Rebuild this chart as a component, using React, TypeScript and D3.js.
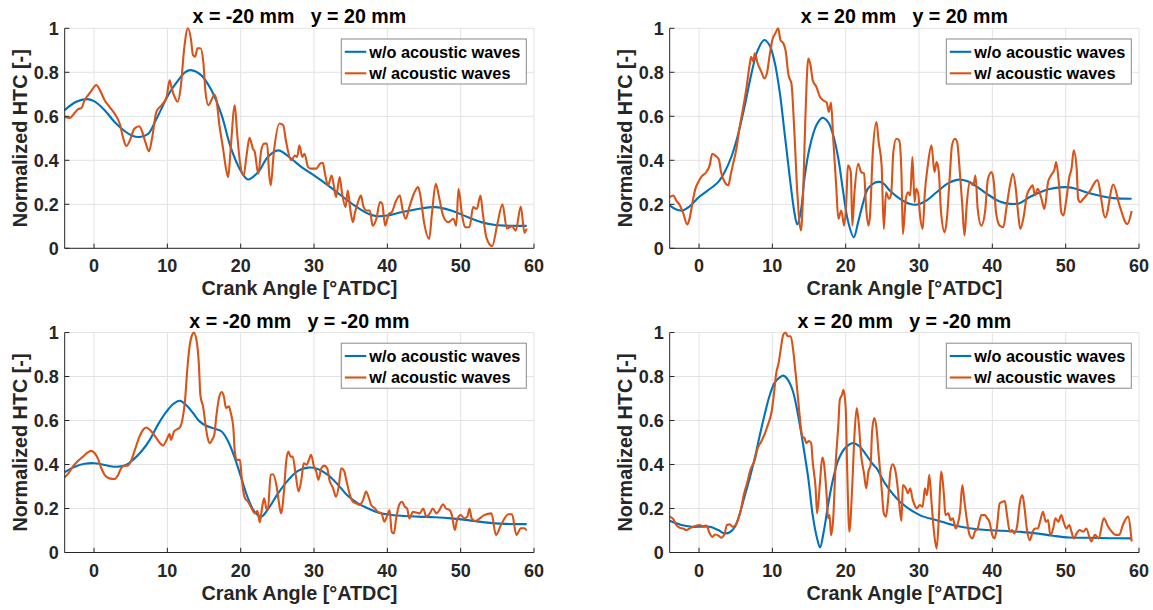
import React from "react";
import * as d3 from "d3";

// ---------- data ----------
const titles = [
  "x = -20 mm   y = 20 mm",
  "x = 20 mm   y = 20 mm",
  "x = -20 mm   y = -20 mm",
  "x = 20 mm   y = -20 mm",
];
const seriesNames = ["w/o acoustic waves", "w/ acoustic waves"];
const xTicks = [0, 10, 20, 30, 40, 50, 60];
const yTicks = [0, 0.2, 0.4, 0.6, 0.8, 1];
const yTickLabels = ["0", "0.2", "0.4", "0.6", "0.8", "1"];
const xLabel = "Crank Angle [°ATDC]";
const yLabel = "Normalized HTC [-]";

type P = [number, number];

const tlBlue: P[] = [[-4,0.628],[-2.5,0.665],[-1,0.678],[0,0.669],[1.45,0.628],[2.8,0.574],[4.2,0.532],[5.2,0.512],[6.2,0.506],[7.4,0.521],[8.3,0.574],[9.2,0.635],[10.1,0.696],[11.5,0.764],[12.4,0.8],[13.2,0.81],[14.6,0.787],[16,0.719],[17.4,0.605],[18.7,0.453],[20.1,0.347],[21,0.313],[22.4,0.347],[23.7,0.415],[25.1,0.445],[26.9,0.407],[28.3,0.369],[30,0.331],[31.9,0.286],[33.7,0.24],[35.5,0.195],[37.4,0.157],[38.6,0.146],[40,0.149],[41.9,0.164],[44.2,0.179],[46.5,0.187],[48.7,0.172],[51,0.141],[52.8,0.119],[54.5,0.107],[56,0.103],[59,0.102]];
const tlOrange: P[] = [[-4,0.597],[-3.3,0.593],[-2.6,0.617],[-2.2,0.632],[-1.7,0.638],[-1.3,0.673],[-0.8,0.696],[-0.3,0.719],[0.3,0.742],[0.8,0.719],[1.45,0.673],[2.1,0.643],[2.8,0.612],[3.5,0.567],[4,0.498],[4.4,0.465],[4.9,0.491],[5.5,0.544],[6.2,0.555],[6.5,0.536],[7,0.483],[7.5,0.441],[7.9,0.498],[8.5,0.62],[9.2,0.65],[9.9,0.688],[10.3,0.764],[10.6,0.726],[11,0.688],[11.4,0.666],[11.8,0.726],[12.3,0.909],[12.8,1.0],[13.2,0.954],[13.5,0.878],[13.8,0.871],[14.1,0.909],[14.5,0.909],[14.9,0.848],[15.2,0.711],[15.6,0.65],[16,0.673],[16.4,0.699],[16.7,0.673],[17.1,0.559],[17.6,0.453],[18,0.362],[18.3,0.324],[18.6,0.438],[19.2,0.65],[19.5,0.529],[19.9,0.392],[20.4,0.331],[20.8,0.422],[21.2,0.502],[21.7,0.45],[21.9,0.441],[22.4,0.339],[22.8,0.445],[23.2,0.476],[23.6,0.476],[23.9,0.33],[24.1,0.286],[24.5,0.43],[25.3,0.567],[25.8,0.559],[26.2,0.483],[26.9,0.4],[27.4,0.422],[27.7,0.415],[28,0.468],[28.4,0.415],[28.7,0.43],[29.2,0.369],[29.6,0.362],[30.3,0.362],[30.8,0.384],[31.2,0.389],[31.5,0.339],[31.9,0.286],[32.4,0.331],[32.7,0.286],[33,0.233],[33.5,0.324],[33.8,0.255],[34.3,0.187],[34.6,0.263],[35,0.164],[35.3,0.119],[35.6,0.164],[36,0.21],[36.4,0.24],[36.7,0.195],[37.1,0.172],[37.6,0.172],[38,0.103],[38.5,0.134],[39,0.21],[39.3,0.203],[39.7,0.103],[40.2,0.156],[40.6,0.164],[41.2,0.217],[41.7,0.24],[42.1,0.172],[42.5,0.134],[43,0.187],[43.7,0.255],[44.2,0.278],[44.5,0.24],[45,0.119],[45.7,0.043],[46.1,0.164],[46.6,0.293],[47.1,0.225],[47.6,0.149],[48.3,0.119],[49,0.134],[49.4,0.103],[49.7,0.27],[50.2,0.149],[50.6,0.096],[51.2,0.096],[51.7,0.187],[52.2,0.179],[52.7,0.24],[53,0.164],[53.5,0.05],[54.3,0.01],[55,0.11],[55.7,0.2],[56.3,0.09],[57,0.1],[57.5,0.08],[58.2,0.19],[58.7,0.07],[59,0.09]];

const trBlue: P[] = [[-4,0.195],[-3.1,0.176],[-2.2,0.172],[-1.3,0.19],[0,0.233],[1.2,0.263],[2.6,0.301],[3.5,0.347],[4.4,0.415],[5.3,0.514],[6.2,0.643],[7.1,0.787],[8,0.9],[8.9,0.947],[9.6,0.924],[10.3,0.848],[11,0.711],[11.7,0.514],[12.4,0.316],[13,0.164],[13.4,0.108],[13.9,0.172],[14.4,0.324],[15.1,0.46],[16,0.559],[16.8,0.593],[17.6,0.574],[18.3,0.514],[19,0.407],[19.6,0.27],[20.3,0.126],[21.1,0.05],[21.7,0.119],[22.4,0.21],[23,0.27],[23.7,0.293],[24.4,0.302],[25.1,0.296],[26,0.263],[27.4,0.225],[28.7,0.202],[29.6,0.198],[31,0.217],[32.4,0.255],[34,0.296],[35.5,0.312],[36.9,0.301],[38.3,0.27],[39.6,0.24],[41,0.213],[42.4,0.202],[43.7,0.205],[45.1,0.233],[46.5,0.255],[47.8,0.27],[49.2,0.277],[50.1,0.278],[51.5,0.27],[52.8,0.255],[54.5,0.24],[56.5,0.228],[59,0.225]];
const trOrange: P[] = [[-4,0.233],[-3.5,0.24],[-3.1,0.217],[-2.6,0.195],[-2.2,0.164],[-1.6,0.108],[-1.3,0.134],[-0.8,0.225],[-0.5,0.27],[-0.1,0.301],[0.3,0.324],[1,0.347],[1.45,0.377],[1.8,0.43],[2.2,0.422],[2.7,0.404],[3,0.347],[3.5,0.301],[4,0.286],[4.3,0.331],[4.6,0.377],[5.1,0.453],[5.5,0.544],[6,0.635],[6.45,0.726],[6.9,0.833],[7.1,0.871],[7.4,0.848],[7.6,0.886],[8,0.84],[8.5,0.802],[8.9,0.772],[9.3,0.802],[9.6,0.871],[10,0.947],[10.4,0.977],[10.8,1.0],[11.1,0.947],[11.5,0.932],[11.8,0.9],[12.2,0.787],[12.6,0.749],[13,0.529],[13.4,0.255],[13.9,0.081],[14.2,0.255],[14.5,0.59],[14.9,0.863],[15.2,0.833],[15.5,0.764],[16,0.734],[16.5,0.688],[16.9,0.673],[17.4,0.663],[17.7,0.62],[18,0.663],[18.3,0.498],[18.7,0.286],[19,0.134],[19.4,0.172],[19.8,0.103],[20.1,0.225],[20.3,0.377],[20.7,0.347],[20.9,0.103],[21.2,0.255],[21.7,0.384],[22.1,0.347],[22.5,0.34],[22.8,0.179],[23.1,0.103],[23.3,0.141],[23.7,0.438],[24.2,0.574],[24.5,0.483],[24.9,0.377],[25.2,0.088],[25.5,0.255],[25.9,0.225],[26.2,0.248],[26.5,0.438],[26.9,0.498],[27.3,0.49],[27.6,0.347],[27.8,0.065],[28.2,0.225],[28.5,0.255],[28.8,0.24],[29.1,0.415],[29.4,0.21],[29.6,0.27],[29.9,0.248],[30.1,0.164],[30.5,0.088],[30.8,0.255],[31.2,0.377],[31.7,0.468],[32.1,0.347],[32.4,0.392],[32.7,0.347],[33,0.164],[33.5,0.073],[33.8,0.134],[34.2,0.331],[34.5,0.468],[34.9,0.498],[35.2,0.483],[35.5,0.377],[35.9,0.195],[36.2,0.058],[36.5,0.195],[36.9,0.301],[37.4,0.286],[37.7,0.331],[38,0.179],[38.5,0.103],[39,0.164],[39.4,0.316],[39.9,0.347],[40.2,0.301],[40.5,0.164],[41,0.103],[41.5,0.096],[41.9,0.179],[42.4,0.286],[42.8,0.339],[43.2,0.27],[43.5,0.164],[43.8,0.088],[44.3,0.149],[44.7,0.24],[45.1,0.27],[45.5,0.286],[45.8,0.24],[46.2,0.27],[46.7,0.225],[47.1,0.179],[47.6,0.301],[48,0.331],[48.5,0.362],[48.7,0.392],[49.1,0.286],[49.4,0.164],[49.7,0.149],[50.1,0.225],[50.5,0.324],[50.8,0.362],[51.1,0.445],[51.5,0.362],[51.7,0.225],[52,0.21],[52.4,0.225],[52.8,0.24],[53.3,0.26],[54.3,0.31],[55.4,0.14],[56.5,0.29],[57.3,0.2],[58.4,0.11],[59,0.17]];

const blBlue: P[] = [[-4,0.365],[-2.6,0.39],[-1.3,0.403],[0,0.406],[1.45,0.398],[2.8,0.39],[4.2,0.395],[5.3,0.421],[6.45,0.459],[7.6,0.512],[8.7,0.58],[9.9,0.641],[10.8,0.675],[11.7,0.69],[12.6,0.669],[13.5,0.634],[14.4,0.596],[15.3,0.576],[16.5,0.562],[17.4,0.55],[18.3,0.505],[19.2,0.429],[20.1,0.337],[21,0.246],[21.9,0.185],[22.8,0.163],[23.7,0.196],[25.1,0.269],[26.5,0.33],[27.8,0.371],[29.2,0.386],[30.5,0.38],[31.9,0.353],[33.3,0.307],[34.6,0.258],[36,0.223],[37.4,0.2],[38.7,0.182],[40.1,0.173],[41.9,0.167],[44.2,0.163],[46.5,0.16],[48.7,0.155],[51,0.147],[53.3,0.137],[56,0.13],[59,0.129]];
const blOrange: P[] = [[-4,0.342],[-3.5,0.36],[-2.9,0.39],[-2.2,0.416],[-1.5,0.436],[-0.8,0.456],[-0.4,0.462],[0.1,0.451],[0.5,0.429],[1,0.383],[1.45,0.353],[2.1,0.337],[2.8,0.334],[3.3,0.353],[3.7,0.383],[4.2,0.395],[4.6,0.395],[5.1,0.421],[5.5,0.459],[6.2,0.527],[6.7,0.558],[7.1,0.568],[7.6,0.558],[8,0.543],[8.5,0.52],[9,0.497],[9.4,0.486],[9.9,0.512],[10.3,0.538],[10.5,0.512],[10.9,0.55],[11.2,0.558],[11.7,0.568],[12,0.596],[12.4,0.687],[12.7,0.824],[13,0.93],[13.4,0.991],[13.6,1.0],[14,0.96],[14.3,0.854],[14.5,0.717],[14.9,0.657],[15.2,0.581],[15.5,0.52],[15.8,0.497],[16.1,0.512],[16.4,0.535],[16.7,0.626],[17,0.695],[17.4,0.729],[17.7,0.71],[18,0.657],[18.4,0.664],[18.6,0.641],[19,0.565],[19.2,0.459],[19.5,0.421],[19.9,0.421],[20.1,0.353],[20.3,0.292],[20.6,0.246],[21,0.231],[21.5,0.2],[21.9,0.178],[22.3,0.188],[22.6,0.137],[22.9,0.2],[23.2,0.246],[23.5,0.2],[23.7,0.193],[24.1,0.353],[24.4,0.356],[24.9,0.3],[25.2,0.231],[25.5,0.178],[25.9,0.277],[26.2,0.413],[26.5,0.459],[26.8,0.436],[27.1,0.436],[27.5,0.353],[27.9,0.277],[28.3,0.337],[28.6,0.406],[29,0.398],[29.3,0.421],[29.6,0.444],[30,0.39],[30.3,0.368],[30.6,0.33],[31,0.383],[31.4,0.395],[31.8,0.383],[32.1,0.33],[32.6,0.292],[33,0.254],[33.4,0.307],[33.7,0.383],[34.1,0.371],[34.4,0.33],[34.9,0.261],[35.3,0.231],[35.8,0.223],[36.2,0.216],[36.7,0.239],[37.1,0.277],[37.5,0.246],[37.8,0.216],[38.3,0.2],[38.7,0.185],[39.2,0.178],[39.6,0.14],[40,0.17],[40.3,0.193],[40.6,0.094],[40.9,0.087],[41.2,0.155],[41.7,0.223],[42,0.231],[42.4,0.208],[42.7,0.2],[43,0.155],[43.5,0.185],[43.9,0.182],[44.4,0.178],[44.9,0.2],[45.3,0.163],[45.8,0.178],[46.2,0.2],[46.7,0.178],[47.1,0.193],[47.6,0.219],[48,0.2],[48.5,0.193],[48.8,0.17],[49.2,0.102],[49.5,0.147],[50,0.17],[50.5,0.155],[50.9,0.163],[51.2,0.2],[51.5,0.155],[52,0.143],[52.6,0.155],[53.2,0.17],[54.2,0.178],[54.8,0.08],[55.5,0.125],[56.5,0.174],[57,0.174],[57.6,0.08],[58.2,0.11],[58.7,0.11],[59,0.1]];

const brBlue: P[] = [[-4,0.144],[-2.4,0.125],[-1,0.117],[0.3,0.117],[1.45,0.117],[2.6,0.102],[3.5,0.087],[4.2,0.092],[4.9,0.117],[5.5,0.17],[6.2,0.254],[6.9,0.337],[7.6,0.429],[8.3,0.535],[9,0.634],[9.6,0.71],[10.3,0.771],[11,0.796],[11.5,0.804],[12.1,0.786],[12.8,0.733],[13.5,0.626],[14.2,0.489],[14.9,0.337],[15.5,0.17],[16.1,0.064],[16.5,0.023],[17,0.094],[17.6,0.216],[18.3,0.337],[19,0.421],[19.9,0.474],[21,0.497],[21.9,0.482],[22.8,0.444],[23.7,0.401],[24.2,0.383],[25.5,0.307],[27.4,0.231],[30.1,0.17],[32.4,0.147],[34.6,0.125],[36.9,0.11],[39.2,0.102],[41.5,0.099],[43.7,0.094],[46,0.087],[48.3,0.076],[50.5,0.068],[52.8,0.067],[56,0.065],[59,0.064]];
const brOrange: P[] = [[-4,0.163],[-3.5,0.152],[-3.1,0.125],[-2.6,0.112],[-2.2,0.109],[-1.7,0.102],[-1.3,0.109],[-0.8,0.117],[-0.4,0.122],[0.1,0.125],[0.5,0.12],[1,0.122],[1.45,0.087],[1.8,0.071],[2.2,0.082],[2.7,0.076],[3,0.067],[3.5,0.087],[3.8,0.125],[4.2,0.128],[4.6,0.117],[5,0.125],[5.3,0.147],[5.7,0.193],[6.1,0.261],[6.6,0.322],[7,0.375],[7.6,0.421],[8,0.474],[8.5,0.505],[9,0.543],[9.4,0.581],[9.9,0.641],[10.2,0.717],[10.5,0.809],[10.9,0.869],[11.1,0.915],[11.5,0.991],[11.8,1.0],[12.1,0.983],[12.5,0.983],[12.8,0.93],[13.1,0.839],[13.5,0.702],[13.9,0.565],[14.1,0.527],[14.4,0.52],[14.6,0.497],[15,0.507],[15.3,0.497],[15.5,0.413],[15.9,0.292],[16.1,0.178],[16.5,0.322],[16.8,0.432],[17,0.413],[17.4,0.261],[17.6,0.155],[17.8,0.17],[18,0.079],[18.3,0.155],[18.6,0.383],[19,0.581],[19.2,0.695],[19.5,0.717],[19.7,0.74],[20,0.657],[20.2,0.383],[20.5,0.094],[20.9,0.307],[21.2,0.535],[21.5,0.657],[21.8,0.581],[22.1,0.444],[22.5,0.36],[22.8,0.292],[23.1,0.368],[23.4,0.398],[23.6,0.55],[23.9,0.611],[24.2,0.565],[24.5,0.444],[24.9,0.292],[25.2,0.178],[25.5,0.163],[25.8,0.246],[26.1,0.368],[26.4,0.401],[26.7,0.383],[27,0.322],[27.3,0.223],[27.6,0.143],[27.8,0.307],[28.2,0.292],[28.5,0.269],[28.8,0.292],[29.1,0.246],[29.4,0.216],[29.7,0.2],[30.1,0.216],[30.5,0.208],[30.8,0.292],[31.1,0.261],[31.4,0.353],[31.7,0.231],[32,0.109],[32.4,0.018],[32.7,0.155],[33,0.368],[33.4,0.261],[33.6,0.17],[34,0.178],[34.3,0.147],[34.6,0.155],[35,0.109],[35.3,0.132],[35.6,0.185],[35.9,0.307],[36.2,0.231],[36.5,0.155],[36.9,0.079],[37.3,0.064],[37.6,0.094],[38,0.109],[38.5,0.17],[39,0.17],[39.3,0.155],[39.6,0.14],[40,0.079],[40.3,0.064],[40.6,0.109],[41,0.223],[41.4,0.231],[41.7,0.234],[42,0.17],[42.4,0.094],[42.7,0.102],[43,0.087],[43.4,0.125],[43.7,0.216],[44.1,0.261],[44.4,0.2],[44.7,0.109],[45.1,0.056],[45.5,0.094],[45.8,0.109],[46.2,0.109],[46.5,0.14],[46.9,0.185],[47.3,0.14],[47.6,0.147],[47.9,0.079],[48.3,0.109],[48.6,0.155],[49,0.14],[49.4,0.17],[49.7,0.14],[50.1,0.109],[50.5,0.125],[50.8,0.094],[51.1,0.064],[51.5,0.087],[51.9,0.102],[52.4,0.094],[52.8,0.109],[53.5,0.05],[54,0.08],[54.5,0.064],[55.2,0.155],[55.8,0.117],[56.3,0.094],[56.8,0.08],[57.3,0.08],[57.8,0.125],[58.5,0.163],[59,0.05]];

// ---------- layout / style ----------
const W = 1153;
const H = 610;
const colLeft = [64.7, 669.7];
const rowTop = [28.3, 332.5];
const plotW = 469.3;
const plotH = 220;
const BLUE = "#0072BD";
const ORANGE = "#D95319";
const TXT = "#262626";
const GRID = "#e3e3e3";
const FONT = "'Liberation Sans', Arial, Helvetica, sans-serif";

const panels = [
  { title: titles[0], blue: tlBlue, orange: tlOrange, col: 0, row: 0 },
  { title: titles[1], blue: trBlue, orange: trOrange, col: 1, row: 0 },
  { title: titles[2], blue: blBlue, orange: blOrange, col: 0, row: 1 },
  { title: titles[3], blue: brBlue, orange: brOrange, col: 1, row: 1 },
];

function Panel({ p }: { p: typeof panels[number] }) {
  const left = colLeft[p.col];
  const top = rowTop[p.row];
  const x = d3.scaleLinear().domain([-4, 60]).range([left, left + plotW]);
  const y = d3.scaleLinear().domain([0, 1]).range([top + plotH, top]);
  const lineB = d3.line<P>().x((d) => x(d[0])).y((d) => y(d[1])).curve(d3.curveCatmullRom.alpha(0.5));
  const lineO = d3.line<P>().x((d) => x(d[0])).y((d) => y(d[1])).curve(d3.curveMonotoneX);
  const bottom = top + plotH;
  const right = left + plotW;
  const lgX = right - 192.7;
  const lgY = top + 10.7;
  return (
    <g>
      {xTicks.map((t) => (
        <line key={"gx" + t} x1={x(t)} x2={x(t)} y1={top} y2={bottom} stroke={GRID} strokeWidth={1} />
      ))}
      {yTicks.map((t) => (
        <line key={"gy" + t} x1={left} x2={right} y1={y(t)} y2={y(t)} stroke={GRID} strokeWidth={1} />
      ))}
      <path d={lineB(p.blue) || ""} fill="none" stroke={BLUE} strokeWidth={2.1} strokeLinejoin="round" />
      <path d={lineO(p.orange) || ""} fill="none" stroke={ORANGE} strokeWidth={2.1} strokeLinejoin="round" />
      {/* axes */}
      <line x1={left} x2={right} y1={bottom} y2={bottom} stroke={TXT} strokeWidth={1} />
      <line x1={left} x2={left} y1={top} y2={bottom} stroke={TXT} strokeWidth={1} />
      {xTicks.map((t) => (
        <line key={"tx" + t} x1={x(t)} x2={x(t)} y1={bottom} y2={bottom - 4.7} stroke={TXT} strokeWidth={1} />
      ))}
      {yTicks.map((t) => (
        <line key={"ty" + t} x1={left} x2={left + 4.7} y1={y(t)} y2={y(t)} stroke={TXT} strokeWidth={1} />
      ))}
      {xTicks.map((t) => (
        <text key={"lx" + t} x={x(t)} y={bottom + 24} textAnchor="middle" fontSize={18} fontWeight="bold" fill={TXT} fontFamily={FONT}>
          {String(t)}
        </text>
      ))}
      {yTicks.map((t, i) => (
        <text key={"ly" + t} x={left - 6} y={y(t) + 6.4} textAnchor="end" fontSize={18} fontWeight="bold" fill={TXT} fontFamily={FONT}>
          {yTickLabels[i]}
        </text>
      ))}
      <text x={(left + right) / 2} y={top - 5} textAnchor="middle" fontSize={19.6} fontWeight="bold" fill="#000" fontFamily={FONT} style={{ whiteSpace: "pre" }}>
        {p.title}
      </text>
      <text x={(left + right) / 2} y={bottom + 47} textAnchor="middle" fontSize={19.8} fontWeight="bold" fill={TXT} fontFamily={FONT}>
        {xLabel}
      </text>
      <text transform={`translate(${left - 37.5},${(top + bottom) / 2}) rotate(-90)`} textAnchor="middle" fontSize={19.8} fontWeight="bold" fill={TXT} fontFamily={FONT}>
        {yLabel}
      </text>
      {/* legend */}
      <rect x={lgX} y={lgY} width={185} height={45} fill="#fff" stroke="#8a8a8a" strokeWidth={1} />
      {[BLUE, ORANGE].map((c, i) => (
        <g key={"lg" + i}>
          <line x1={lgX + 3.5} x2={lgX + 25} y1={lgY + 12.8 + i * 21.5} y2={lgY + 12.8 + i * 21.5} stroke={c} strokeWidth={2.1} />
          <text x={lgX + 28} y={lgY + 12.8 + i * 21.5 + 5.8} fontSize={16.3} fontWeight="bold" fill="#000" fontFamily={FONT}>
            {seriesNames[i]}
          </text>
        </g>
      ))}
    </g>
  );
}

export default function App() {
  return (
    <div style={{ position: "absolute", left: 0, top: 0 }}>
      <svg width={W} height={H} viewBox={`0 0 ${W} ${H}`} style={{ display: "block", background: "#fff" }}>
        <rect x={0} y={0} width={W} height={H} fill="#fff" />
        {panels.map((p, i) => (
          <Panel key={i} p={p} />
        ))}
      </svg>
    </div>
  );
}
